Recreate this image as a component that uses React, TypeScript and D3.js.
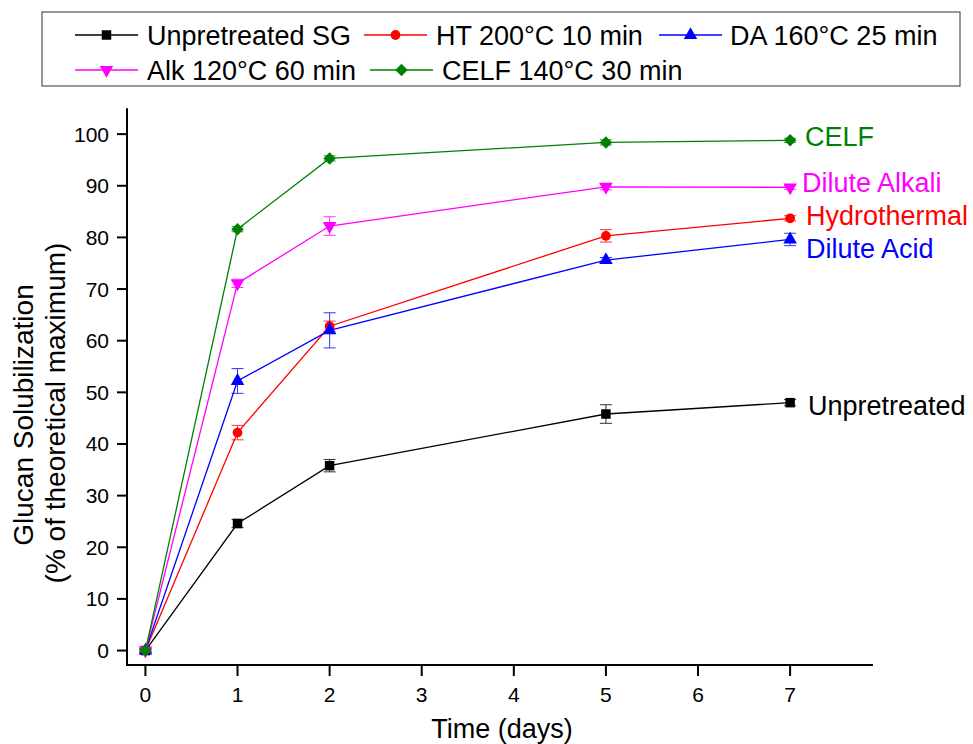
import React from "react";
import * as d3 from "d3";

const days = [0, 1, 2, 5, 7];
const seriesNames = ["Unpretreated SG", "HT 200°C 10 min", "DA 160°C 25 min", "Alk 120°C 60 min", "CELF 140°C 30 min"];
const endLabels = ["Unpretreated", "Hydrothermal", "Dilute Acid", "Dilute Alkali", "CELF"];
const unpretreated = [0, 24.6, 35.8, 45.8, 48.0];
const hydrothermal = [0, 42.2, 62.8, 80.3, 83.7];
const diluteAcid = [0, 52.2, 62.0, 75.6, 79.6];
const diluteAlkali = [0, 71.1, 82.2, 89.8, 89.7];
const celf = [0, 81.6, 95.3, 98.4, 98.8];
const errUnpretreated = [0.3, 0.8, 1.2, 1.8, 0.6];
const errHydrothermal = [0.3, 1.4, 1.0, 1.2, 0.5];
const errDiluteAcid = [0.3, 2.4, 3.4, 0.5, 1.2];
const errDiluteAlkali = [0.3, 0.8, 1.8, 0.6, 0.4];
const errCelf = [0.3, 0.5, 0.5, 0.5, 0.4];
const xTicks = [0, 1, 2, 3, 4, 5, 6, 7];
const yTicks = [0, 10, 20, 30, 40, 50, 60, 70, 80, 90, 100];

const colors = ["#000000", "#ff0000", "#0000ff", "#ff00ff", "#008000"];
const values = [unpretreated, hydrothermal, diluteAcid, diluteAlkali, celf];
const errors = [errUnpretreated, errHydrothermal, errDiluteAcid, errDiluteAlkali, errCelf];
const labelPos = [
  { x: 808, y: 415 },
  { x: 806, y: 225 },
  { x: 806, y: 258 },
  { x: 802, y: 192 },
  { x: 805, y: 146 },
];

const FONT = "'Liberation Sans', Arial, sans-serif";

function Marker({ i, x, y }: { i: number; x: number; y: number }) {
  const c = colors[i];
  if (i === 0) {
    const p = d3.symbol(d3.symbolSquare, 90)()!;
    return <path d={p} transform={`translate(${x},${y})`} fill={c} />;
  }
  if (i === 1) {
    const p = d3.symbol(d3.symbolCircle, 75)()!;
    return <path d={p} transform={`translate(${x},${y})`} fill={c} />;
  }
  if (i === 2) {
    const p = d3.symbol(d3.symbolTriangle, 80)()!;
    return <path d={p} transform={`translate(${x},${y})`} fill={c} />;
  }
  if (i === 3) {
    const p = d3.symbol(d3.symbolTriangle, 80)()!;
    return <path d={p} transform={`translate(${x},${y}) rotate(180)`} fill={c} />;
  }
  const p = d3.symbol(d3.symbolSquare, 78)()!;
  return <path d={p} transform={`translate(${x},${y}) rotate(45)`} fill={c} />;
}

export default function App() {
  const x = d3.scaleLinear().domain([-0.2, 7.9]).range([127, 873]);
  const y = d3.scaleLinear().domain([-2.8, 105]).range([665, 108.3]);
  const line = d3
    .line<number>()
    .x((_, k) => x(days[k]))
    .y((v) => y(v));

  const legendItems = [
    { i: 0, lx: 75, tx: 147, cy: 35 },
    { i: 1, lx: 364, tx: 436, cy: 35 },
    { i: 2, lx: 659, tx: 730, cy: 35 },
    { i: 3, lx: 75, tx: 147, cy: 70 },
    { i: 4, lx: 370, tx: 442, cy: 70 },
  ];

  return (
    <svg
      width={973}
      height={744}
      style={{ position: "absolute", left: 0, top: 0, background: "#fff" }}
      fontFamily={FONT}
    >
      <rect x={0} y={0} width={973} height={744} fill="#fff" />
      {/* legend */}
      <rect x={42} y={12} width={918} height={74} fill="none" stroke="#555" strokeWidth={1.2} />
      {legendItems.map((it) => (
        <g key={it.i}>
          <line x1={it.lx} x2={it.lx + 63} y1={it.cy} y2={it.cy} stroke={colors[it.i]} strokeWidth={1.3} />
          <Marker i={it.i} x={it.lx + 31.5} y={it.cy} />
          <text x={it.tx} y={it.cy + 9.5} fontSize={27} fill="#000">
            {seriesNames[it.i]}
          </text>
        </g>
      ))}

      {/* axes */}
      <line x1={127} x2={127} y1={108.3} y2={666} stroke="#000" strokeWidth={2} />
      <line x1={126} x2={873} y1={665} y2={665} stroke="#000" strokeWidth={2} />
      {yTicks.map((t) => (
        <g key={t}>
          <line x1={117} x2={127} y1={y(t)} y2={y(t)} stroke="#000" strokeWidth={2} />
          <text x={109} y={y(t) + 7.5} fontSize={21} textAnchor="end" fill="#000">
            {t}
          </text>
        </g>
      ))}
      {xTicks.map((t) => (
        <g key={t}>
          <line x1={x(t)} x2={x(t)} y1={665} y2={676} stroke="#000" strokeWidth={2} />
          <text x={x(t)} y={702} fontSize={21} textAnchor="middle" fill="#000">
            {t}
          </text>
        </g>
      ))}
      <text x={502} y={738} fontSize={27} textAnchor="middle" fill="#000">
        Time (days)
      </text>
      <text transform="translate(33,415) rotate(-90)" fontSize={28} textAnchor="middle" fill="#000">
        Glucan Solubilization
      </text>
      <text transform="translate(65,413) rotate(-90)" fontSize={28} textAnchor="middle" fill="#000">
        (% of theoretical maximum)
      </text>

      {/* series */}
      {values.map((vals, i) => (
        <g key={i}>
          <path d={line(vals)!} fill="none" stroke={colors[i]} strokeWidth={1.3} />
          {vals.map((v, k) => {
            const e = errors[i][k];
            const cx = x(days[k]);
            return (
              <g key={k} stroke={colors[i]} strokeWidth={1} opacity={0.8}>
                <line x1={cx} x2={cx} y1={y(v + e)} y2={y(v - e)} />
                <line x1={cx - 6} x2={cx + 6} y1={y(v + e)} y2={y(v + e)} />
                <line x1={cx - 6} x2={cx + 6} y1={y(v - e)} y2={y(v - e)} />
              </g>
            );
          })}
          {vals.map((v, k) => (
            <Marker key={"m" + k} i={i} x={x(days[k])} y={y(v)} />
          ))}
        </g>
      ))}

      {/* end labels */}
      {endLabels.map((l, i) => (
        <text key={l} x={labelPos[i].x} y={labelPos[i].y} fontSize={27} fill={colors[i]}>
          {l}
        </text>
      ))}
    </svg>
  );
}
